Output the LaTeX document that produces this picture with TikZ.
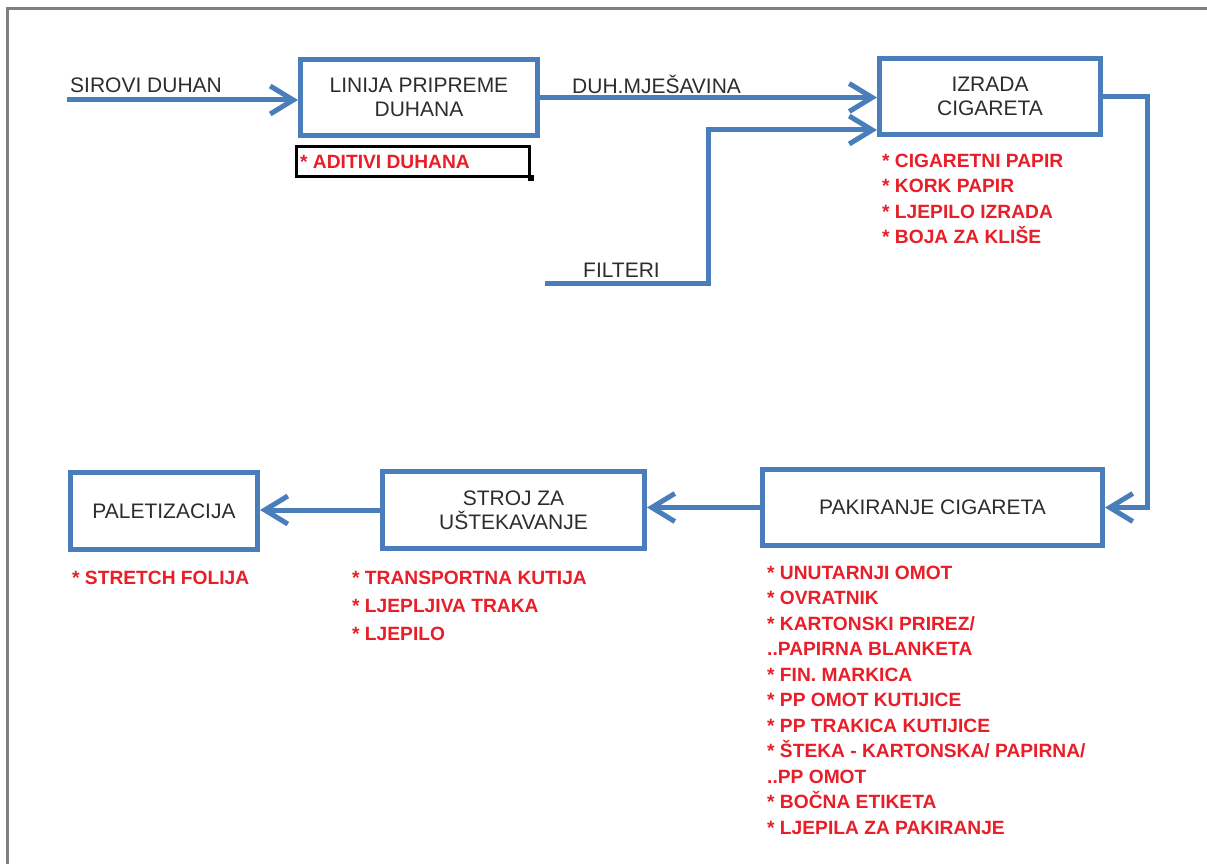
\documentclass[tikz,border=0pt]{standalone}
\usepackage{fontspec}
\setmainfont{Liberation Sans}
\usetikzlibrary{arrows.meta}
\definecolor{flowblue}{RGB}{74,126,187}
\definecolor{matred}{RGB}{232,30,40}
\definecolor{txtgray}{RGB}{45,45,45}
\definecolor{framegray}{RGB}{128,128,128}
\begin{document}
\begin{tikzpicture}[x=1pt,y=-1pt,
  procbox/.style={draw=flowblue, line width=5pt, inner sep=0pt, align=center, text=txtgray, font=\fontsize{21}{24}\selectfont},
  flow/.style={draw=flowblue, line width=5pt, -{Straight Barb[length=23pt,width=28pt]}},
  matlist/.style={anchor=north west, inner sep=0pt, align=left, text=matred, font=\bfseries\fontsize{19.2}{25.5}\selectfont},
  lbl/.style={anchor=west, inner sep=0pt, text height=15pt, text depth=0pt, text=txtgray, font=\fontsize{21}{24}\selectfont}]
\useasboundingbox (0,0) rectangle (1207,864);
\fill[white] (0,0) rectangle (1207,864);
\draw[framegray, line width=3pt] (7,866) -- (7,9) -- (1209,9);

\node[procbox, minimum width=237pt, minimum height=76pt] (linija) at (419,97.5) {LINIJA PRIPREME\\DUHANA};
\node[procbox, minimum width=221pt, minimum height=76pt] (izrada) at (990,96.5) {IZRADA\\CIGARETA};
\node[procbox, minimum width=340pt, minimum height=76pt] (pakiranje) at (932.5,507.5) {PAKIRANJE CIGARETA};
\node[procbox, minimum width=262pt, minimum height=77pt] (stroj) at (513.5,510) {STROJ ZA\\UŠTEKAVANJE};
\node[procbox, minimum width=187pt, minimum height=77pt] (palet) at (164,511) {PALETIZACIJA};

\node[draw=black, line width=3pt, minimum width=233pt, minimum height=30pt, inner sep=0pt] (aditivi) at (413,161.5) {};
\node[fill=black, minimum size=6pt, inner sep=0pt] (handle) at (aditivi.south east) {};
\node[anchor=west, inner sep=0pt, text height=13.7pt, text depth=0pt, text=matred, font=\bfseries\fontsize{19.2}{25.5}\selectfont] (aditivitxt) at (300,162) {* ADITIVI DUHANA};

\node[lbl] (sirovi) at (70,85) {SIROVI DUHAN};
\node[lbl] (duhmj) at (572,86) {DUH.MJEŠAVINA};
\node[lbl] (filteri) at (583,270) {FILTERI};

\node[matlist] (izradamat) at (882,153.4) {* CIGARETNI PAPIR\\* KORK PAPIR\\* LJEPILO IZRADA\\* BOJA ZA KLIŠE};
\node[matlist] (pakmat) at (767,565.4) {* UNUTARNJI OMOT\\* OVRATNIK\\* KARTONSKI PRIREZ/\\..PAPIRNA BLANKETA\\* FIN. MARKICA\\* PP OMOT KUTIJICE\\* PP TRAKICA KUTIJICE\\* ŠTEKA - KARTONSKA/ PAPIRNA/\\..PP OMOT\\* BOČNA ETIKETA\\* LJEPILA ZA PAKIRANJE};
\node[matlist, font=\bfseries\fontsize{19.2}{28}\selectfont] (strojmat) at (352,570.4) {* TRANSPORTNA KUTIJA\\* LJEPLJIVA TRAKA\\* LJEPILO};
\node[matlist] (paletmat) at (72,570.4) {* STRETCH FOLIJA};

\coordinate (siroviStart) at (67,100);
\coordinate (filtStart) at (545,283);
\coordinate (filtBend) at (708,130);
\coordinate (loopX) at (1147,300);
\draw[flow] (siroviStart) -- (siroviStart -| linija.west);
\draw[flow] (linija.east) -- (linija.east -| izrada.west);
\draw[flow] (filtStart) -| (filtBend) -- (filtBend -| izrada.west);
\draw[flow] (izrada.east) -- (izrada.east -| loopX) |- (pakiranje.east);
\draw[flow] (pakiranje.west) -- (pakiranje.west -| stroj.east);
\draw[flow] (stroj.west) -- (stroj.west -| palet.east);
\end{tikzpicture}
\end{document}
